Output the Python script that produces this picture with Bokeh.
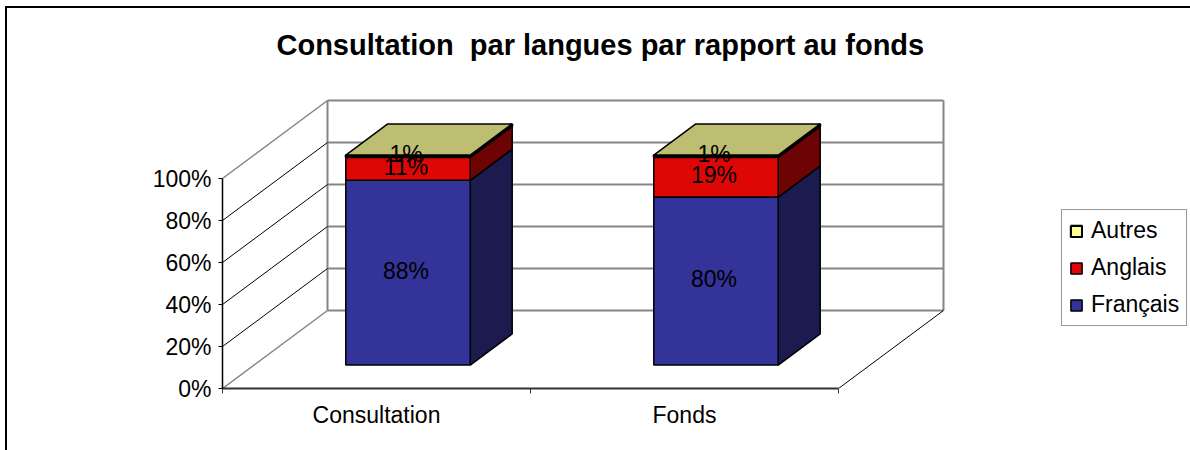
from bokeh.plotting import figure
from bokeh.embed import file_html
from bokeh.resources import INLINE
from bokeh.models import (FixedTicker, Legend, LegendItem, Range1d, Title)
from bokeh.core.properties import value

categories = ["Consultation", "Fonds"]
francais = [88, 80]
anglais = [11, 19]
autres = [1, 1]
pct_ticks = [0, 20, 40, 60, 80, 100]
title_text = "Consultation\u00a0 par langues par rapport au fonds"

FONT = "Liberation Sans"
DX, DY = 105 / 308, 78 / 2.1        # depth of the 3D box, in data units
D0, D1 = 0.3, 0.7                   # bar depth inside the box
HW = 0.202                          # half bar width

p = figure(width=1190, height=450, output_backend="svg", toolbar_location=None,
           x_range=Range1d(0, 968 / 308), y_range=Range1d(0, 318 / 2.1),
           min_border_left=222, min_border_right=0, min_border_top=70, min_border_bottom=62,
           background_fill_color="white", border_fill_color="white",
           outline_line_color=None)
p.grid.visible = False
# chart-area border: only its top and left edges are in view
p.stylesheets = [":host::after{content:'';position:absolute;left:5px;top:6px;right:0;bottom:0;"
                 "border-left:2px solid black;border-top:2px solid black;pointer-events:none;}"]

p.title = Title(text=title_text, align="left", offset=54, standoff=20,
                text_font=FONT, text_font_size="29px", text_font_style="bold", text_color="black")

# axes
ya = p.yaxis[0]
ya.bounds = (0, 100)
ya.ticker = FixedTicker(ticks=pct_ticks)
ya.major_label_overrides = {t: f"{t}%" for t in pct_ticks}
ya.major_label_text_font = FONT
ya.major_label_text_font_size = "23px"
ya.major_label_text_color = "black"
ya.major_label_standoff = 7
ya.major_tick_in = 0
ya.major_tick_out = 4
ya.major_tick_line_color = "black"
ya.minor_tick_line_color = None
ya.axis_line_color = "black"
ya.axis_line_width = 1.5

n = len(categories)
centers = [i + 0.5 for i in range(n)]
xa = p.xaxis[0]
xa.bounds = (0, n)
xa.ticker = FixedTicker(ticks=centers, minor_ticks=list(range(n + 1)))
xa.major_label_overrides = {c: l for c, l in zip(centers, categories)}
xa.major_label_text_font = FONT
xa.major_label_text_font_size = "23px"
xa.major_label_text_color = "black"
xa.major_label_standoff = 8
xa.major_tick_in = 0
xa.major_tick_out = 0
xa.minor_tick_in = 0
xa.minor_tick_out = 5
xa.minor_tick_line_color = "#333333"
xa.axis_line_color = "#333333"
xa.axis_line_width = 2

GRAY = "#858585"
# back wall
for t in pct_ticks:
    p.line([DX, n + DX], [t + DY, t + DY], line_color=GRAY, line_width=2)
p.line([DX, DX], [DY, 100 + DY], line_color=GRAY, line_width=2)
p.line([n + DX, n + DX], [DY, 100 + DY], line_color=GRAY, line_width=2)
# left wall
for t in pct_ticks:
    edge = t in (pct_ticks[0], pct_ticks[-1])
    p.line([0, DX], [t, t + DY], line_color=GRAY if edge else "black",
           line_width=1.5 if edge else 1)
# floor right edge
p.line([n, n + DX], [0, DY], line_color="black", line_width=1)

series = [
    ("Français", francais, "#333399", "#1B1B4F", 1.5),
    ("Anglais", anglais, "#DD0806", "#6E0303", 1.5),
    ("Autres", autres, "#FFFF99", "#7F7F4C", 2.2),
]
TOP = "#BEBE72"
legend_r = {}
labels = []
for ci, c in enumerate(centers):
    base = 0
    for name, vals, col, side, lw in series:
        v = vals[ci]
        x0, x1 = c - HW + D0 * DX, c + HW + D0 * DX
        y0, y1 = base + D0 * DY, base + v + D0 * DY
        dx, dy = (D1 - D0) * DX, (D1 - D0) * DY
        p.patch([x1, x1 + dx, x1 + dx, x1], [y0, y0 + dy, y1 + dy, y1],
                fill_color=side, line_color="black", line_width=lw)
        r = p.quad(left=[x0], right=[x1], bottom=[y0], top=[y1],
                   fill_color=col, line_color="black", line_width=lw)
        legend_r.setdefault(name, r)
        if name == "Autres":
            p.patch([x0, x1, x1 + dx, x0 + dx], [y1, y1, y1 + dy, y1 + dy],
                    fill_color=TOP, line_color="black", line_width=1.5)
        labels.append(((x0 + x1) / 2, (y0 + y1) / 2, f"{v}%"))
        base += v

p.text([l[0] for l in labels], [l[1] for l in labels], text=[l[2] for l in labels],
       text_font=value(FONT), text_font_size="23px", text_color="black",
       text_align="center", text_baseline="middle", x_offset=-2, y_offset=-2)

legend = Legend(items=[LegendItem(label=s[0], renderers=[legend_r[s[0]]]) for s in reversed(series)],
                location=(839, 62), orientation="vertical",
                label_text_font=FONT, label_text_font_size="23px", label_text_color="black",
                glyph_width=14, glyph_height=14, label_height=25, label_width=88, spacing=10,
                label_standoff=8, padding=7, margin=0,
                border_line_color="#333333", border_line_width=1,
                background_fill_color="white", background_fill_alpha=1)
p.add_layout(legend, "center")

open("out.html", "w").write(file_html(p, INLINE))
